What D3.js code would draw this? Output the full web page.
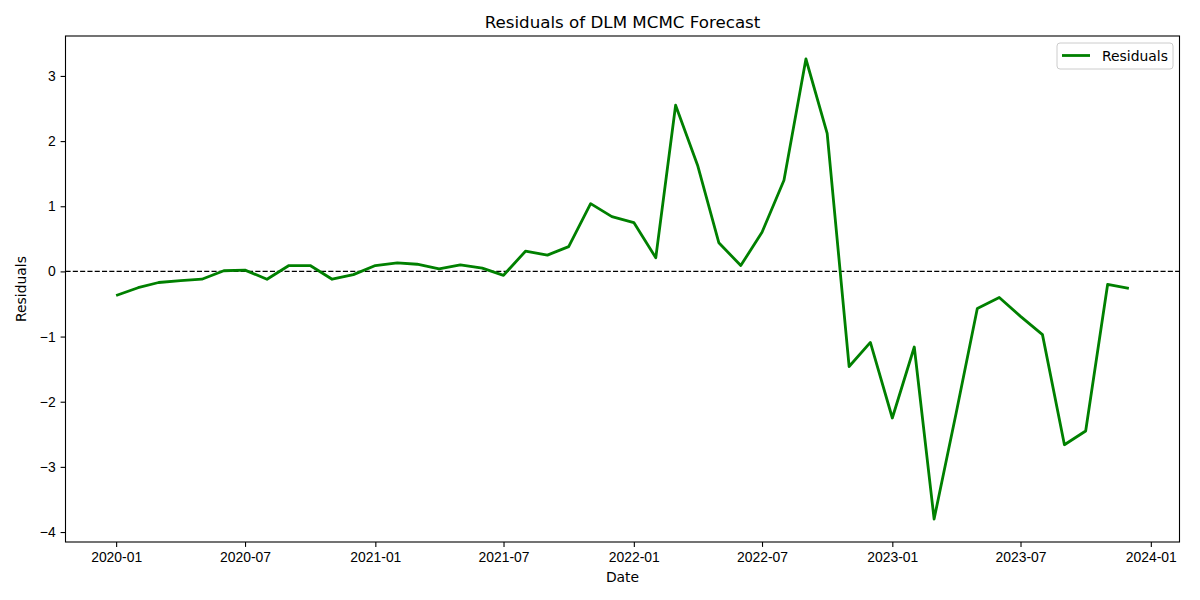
<!DOCTYPE html>
<html>
<head>
<meta charset="utf-8">
<script src="https://cdn.jsdelivr.net/npm/d3@7"></script>
<style>
  body { margin: 0; background: #fff; }
  svg { font-family: "DejaVu Sans", sans-serif; }
  .tick text { font-size: 13.9px; fill: #000; }
  .tick line, .domain { stroke: #000; }
</style>
</head>
<body>
<svg width="1200" height="600"></svg>
<script>
// monthly residuals, 2020-01 .. 2023-12
const startMonth = '2020-01-01';
const residuals = [
  -0.37, -0.25, -0.17, -0.14, -0.12, 0.01, 0.02, -0.12, 0.09, 0.09, -0.12, -0.05,
  0.09, 0.13, 0.11, 0.04, 0.10, 0.05, -0.06, 0.31, 0.25, 0.38, 1.04, 0.84,
  0.75, 0.21, 2.55, 1.63, 0.44, 0.09, 0.60, 1.40, 3.26, 2.12, -1.46, -1.09,
  -2.25, -1.16, -3.80, -2.18, -0.57, -0.40, -0.69, -0.97, -2.66, -2.45, -0.20, -0.26
];
const yTicks = [-4, -3, -2, -1, 0, 1, 2, 3];

const parse = d3.timeParse('%Y-%m-%d');
const t0 = parse(startMonth);
const data = residuals.map((v, i) => ({ date: d3.timeMonth.offset(t0, i), value: v }));

const svg = d3.select('svg');
const margin = { left: 65.5, right: 20.5, top: 36, bottom: 58 };
const width = 1200, height = 600;

// matplotlib-style 5% padding
const xExt = d3.extent(data, d => d.date);
const xPad = (xExt[1] - xExt[0]) * 0.05;
const x = d3.scaleTime()
    .domain([new Date(+xExt[0] - xPad), new Date(+xExt[1] + xPad)])
    .range([margin.left, width - margin.right]);

const yExt = d3.extent(data, d => d.value);
const yPad = (yExt[1] - yExt[0]) * 0.05;
const y = d3.scaleLinear()
    .domain([yExt[0] - yPad, yExt[1] + yPad])
    .range([height - margin.bottom, margin.top]);

const minus = d => (d < 0 ? '\u2212' + Math.abs(d) : '' + d);

svg.append('g')
    .attr('transform', `translate(0, ${height - margin.bottom})`)
    .call(d3.axisBottom(x).ticks(d3.timeMonth.every(6)).tickFormat(d3.timeFormat('%Y-%m')).tickSize(4.9).tickPadding(4.9))
    .call(g => g.select('.domain').remove())
    .call(g => g.selectAll('.tick line').attr('stroke-width', 1.1));

svg.append('g')
    .attr('transform', `translate(${margin.left}, 0)`)
    .call(d3.axisLeft(y).tickValues(yTicks).tickFormat(minus).tickSize(4.9).tickPadding(4.9))
    .call(g => g.select('.domain').remove())
    .call(g => g.selectAll('.tick line').attr('stroke-width', 1.1));

// zero reference
svg.append('line')
    .attr('x1', margin.left).attr('x2', width - margin.right)
    .attr('y1', y(0)).attr('y2', y(0))
    .attr('stroke', '#000').attr('stroke-width', 1.4)
    .attr('stroke-dasharray', '5.1,2.2');

const line = d3.line().x(d => x(d.date)).y(d => y(d.value));
svg.append('path')
    .datum(data)
    .attr('fill', 'none')
    .attr('stroke', 'green')
    .attr('stroke-width', 2.8)
    .attr('stroke-linejoin', 'round')
    .attr('d', line);

// frame
svg.append('rect')
    .attr('x', margin.left).attr('y', margin.top)
    .attr('width', width - margin.left - margin.right)
    .attr('height', height - margin.top - margin.bottom)
    .attr('fill', 'none').attr('stroke', '#000').attr('stroke-width', 1.1);

svg.append('text')
    .attr('x', (margin.left + width - margin.right) / 2).attr('y', 28)
    .attr('text-anchor', 'middle').attr('font-size', 16.7)
    .text('Residuals of DLM MCMC Forecast');

svg.append('text')
    .attr('x', (margin.left + width - margin.right) / 2).attr('y', 582)
    .attr('text-anchor', 'middle').attr('font-size', 13.9)
    .text('Date');

svg.append('text')
    .attr('transform', `translate(26, ${(margin.top + height - margin.bottom) / 2}) rotate(-90)`)
    .attr('text-anchor', 'middle').attr('font-size', 13.9)
    .text('Residuals');

// legend
const legend = svg.append('g').attr('transform', 'translate(1057, 43)');
legend.append('rect')
    .attr('width', 116).attr('height', 26).attr('rx', 3)
    .attr('fill', '#fff').attr('fill-opacity', 0.8)
    .attr('stroke', '#ccc').attr('stroke-width', 1);
legend.append('line')
    .attr('x1', 5).attr('x2', 33).attr('y1', 12.5).attr('y2', 12.5)
    .attr('stroke', 'green').attr('stroke-width', 2.8);
legend.append('text')
    .attr('x', 45).attr('y', 17.5).attr('font-size', 13.9)
    .text('Residuals');
</script>
</body>
</html>
